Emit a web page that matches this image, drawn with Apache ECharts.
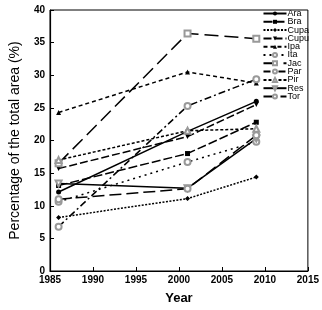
<!DOCTYPE html>
<html>
<head>
<meta charset="utf-8">
<script src="https://cdn.jsdelivr.net/npm/echarts@6/dist/echarts.min.js"></script>
<style>
  html, body { margin: 0; padding: 0; background: #fff; }
  #chart { width: 322px; height: 310px; }
</style>
</head>
<body>
<div id="chart"></div>
<script>
// years sampled
var years = [1986, 2001, 2009]
var xTicks = [1985, 1990, 1995, 2000, 2005, 2010, 2015]
var yTicks = [0, 5, 10, 15, 20, 25, 30, 35, 40]

var names = ['Ara', 'Bra', 'Cupa', 'Cupu', 'Ipa', 'Ita', 'Jac', 'Par', 'Pir', 'Res', 'Tor']
var ara = [12.1, 21.4, 26.0]
var bra = [13.1, 18.0, 22.8]
var cupa = [8.2, 11.1, 14.4]
var cupu = [15.7, 20.6, 25.5]
var ipa = [24.3, 30.5, 28.8]
var ita = [10.6, 16.7, 19.8]
var jac = [16.5, 36.4, 35.6]
var par = [6.8, 25.3, 29.4]
var pir = [17.0, 21.5, 21.8]
var res = [13.4, 12.7, 20.3]
var tor = [11.0, 12.6, 20.8]

var values = [ara, bra, cupa, cupu, ipa, ita, jac, par, pir, res, tor]
// marker + dash per series
var symbols = ['circle', 'rect', 'diamond', 'triangle', 'triangle', 'emptyCircle', 'emptyRect', 'emptyCircle', 'emptyTriangle', 'emptyTriangle', 'emptyCircle']
var rotates = [0, 0, 0, 180, 0, 0, 0, 0, 0, 180, 0]
var dashes = ['solid', [9, 3], [2, 1.5], [8, 3], [4, 3], [2, 4], [14, 6], [7, 3, 2, 3], [3, 2], 'solid', [12, 5]]

var chart = echarts.init(document.getElementById('chart'))

var series = names.map(function(n, i) {
  var empty = symbols[i].indexOf('empty') === 0
  return {
    name: n,
    type: 'line',
    data: years.map(function(y, j) { return [y, values[i][j]] }),
    symbol: symbols[i],
    symbolSize: empty ? 6 : 5,
    symbolRotate: rotates[i],
    showAllSymbol: true,
    itemStyle: { color: empty ? '#999' : '#000', borderColor: empty ? '#999' : '#000', borderWidth: empty ? 0.8 : 0 },
    lineStyle: { color: '#000', width: 1.5, type: dashes[i] },
    animation: false
  }
})

chart.setOption({
  backgroundColor: '#fff',
  textStyle: { fontFamily: 'Liberation Sans' },
  grid: {
    left: 44, right: 12, top: 10, bottom: 34,
    show: true, borderColor: '#000', borderWidth: 1
  },
  legend: {
    data: names,
    orient: 'vertical',
    right: 13,
    top: 9,
    padding: 0,
    itemWidth: 23,
    itemHeight: 5,
    itemGap: -0.7,
    textStyle: { fontSize: 9, color: '#000', padding: [0, 0, 0, -4] }
  },
  xAxis: {
    type: 'value',
    min: 1985, max: 2015, interval: 5,
    name: 'Year',
    nameLocation: 'middle',
    nameGap: 21,
    nameTextStyle: { fontSize: 13, fontWeight: 'bold', color: '#000' },
    splitLine: { show: false },
    axisLine: { lineStyle: { color: '#000', width: 1.2 } },
    axisTick: { inside: true, length: 4, lineStyle: { color: '#000' } },
    axisLabel: { fontSize: 10, fontWeight: 'bold', color: '#000', margin: 4,
      formatter: function(v) { return xTicks.indexOf(v) >= 0 ? String(v) : '' } }
  },
  yAxis: {
    type: 'value',
    min: 0, max: 40, interval: 5,
    name: 'Percentage of the total area (%)',
    nameLocation: 'middle',
    nameGap: 28,
    nameTextStyle: { fontSize: 14, color: '#000' },
    splitLine: { show: false },
    axisLine: { lineStyle: { color: '#000', width: 1.2 } },
    axisTick: { inside: true, length: 4, lineStyle: { color: '#000' } },
    axisLabel: { fontSize: 10, fontWeight: 'bold', color: '#000', margin: 5,
      formatter: function(v) { return yTicks.indexOf(v) >= 0 ? String(v) : '' } }
  },
  series: series
})
</script>
</body>
</html>
